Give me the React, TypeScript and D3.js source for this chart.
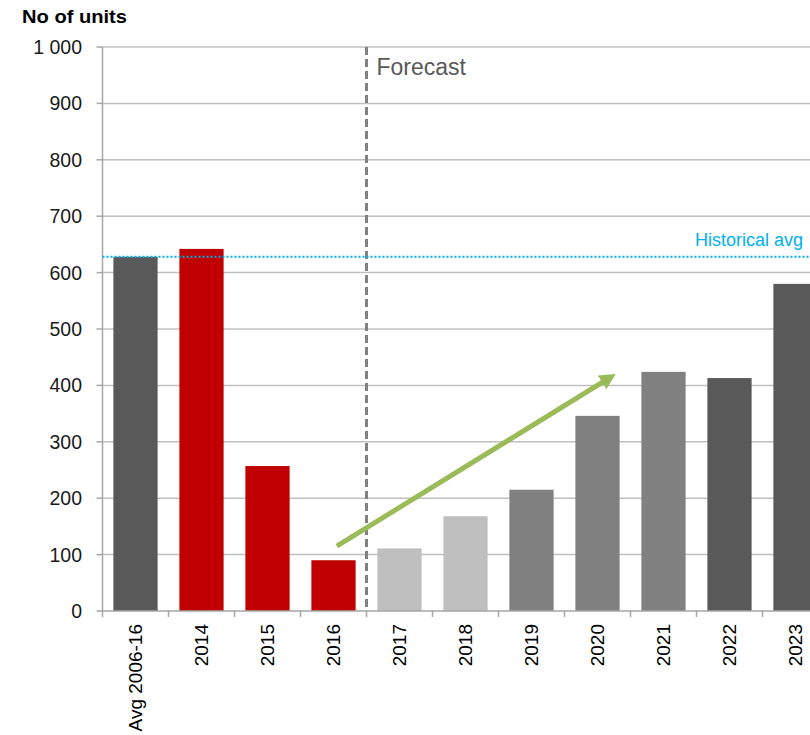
import * as d3 from "d3";

const categories = ["Avg 2006-16", "2014", "2015", "2016", "2017", "2018", "2019", "2020", "2021", "2022", "2023"];
const units = [628, 642, 257, 90, 111, 168, 215, 346, 424, 413, 580];
const barColors = ["#595959", "#C00000", "#C00000", "#C00000", "#BFBFBF", "#BFBFBF", "#808080", "#808080", "#808080", "#595959", "#595959"];
const yTicks = [0, 100, 200, 300, 400, 500, 600, 700, 800, 900, 1000];
const historicalAvg = 628;
const forecastStart = "2017";
// trend arrow, in category-index units and values
const arrowFrom: [number, number] = [3.05, 115];
const arrowTo: [number, number] = [7.33, 424];

const W = 810;
const H = 735;
const left = 102.5;
const step = 66;
const top = 47;
const bottom = 611;

const fmt = (v: number) => (v >= 1000 ? d3.format(",")(v).replace(",", " ") : String(v));

export default function App() {
  const x = d3
    .scaleBand<string>()
    .domain(categories)
    .range([left, left + step * categories.length])
    .paddingInner(0.33)
    .paddingOuter(0.165);
  const y = d3.scaleLinear().domain([0, 1000]).range([bottom, top]);
  const xi = d3
    .scaleLinear()
    .domain([0, 1])
    .range([x(categories[0])! + x.bandwidth() / 2, x(categories[1])! + x.bandwidth() / 2]);

  const gap = (x.step() - x.bandwidth()) / 2;
  const forecastX = x(forecastStart)! - gap;
  const boundaries = categories.map((c) => x(c)! + x.bandwidth() + gap);

  const ax1 = xi(arrowFrom[0]);
  const ay1 = y(arrowFrom[1]);
  const ax2 = xi(arrowTo[0]);
  const ay2 = y(arrowTo[1]);

  const font = "'Liberation Sans', Arial, sans-serif";

  return (
    <svg
      width={W}
      height={H}
      style={{ position: "absolute", left: 0, top: 0, background: "#fff" }}
      fontFamily={font}
    >
      <defs>
        <marker id="ah" viewBox="0 0 10 10" refX="6" refY="5" markerWidth="3.2" markerHeight="3.2" orient="auto">
          <path d="M0,0 L10,5 L0,10 z" fill="#9BBB59" />
        </marker>
      </defs>
      <text x={22} y={23} fontSize={19} fontWeight="bold" fill="#000" textLength={105} lengthAdjust="spacingAndGlyphs">
        No of units
      </text>

      {yTicks.map((t) => (
        <g key={t}>
          {t > 0 && <line x1={left} x2={W} y1={y(t)} y2={y(t)} stroke="#C0C0C0" strokeWidth={1.5} />}
          <line x1={left - 6} x2={left} y1={y(t)} y2={y(t)} stroke="#A6A6A6" strokeWidth={1.5} />
          <text x={82} y={y(t)} dy="0.36em" textAnchor="end" fontSize={19.5} fill="#1a1a1a">
            {fmt(t)}
          </text>
        </g>
      ))}

      {categories.map((c, i) => (
        <rect key={c} x={x(c)} y={y(units[i])} width={x.bandwidth()} height={y(0) - y(units[i])} fill={barColors[i]} />
      ))}

      <line x1={left} x2={left} y1={top} y2={bottom} stroke="#A6A6A6" strokeWidth={1.5} />
      <line x1={left} x2={W} y1={bottom} y2={bottom} stroke="#A6A6A6" strokeWidth={1.5} />
      {[left, ...boundaries].map((bx, i) => (
        <line key={i} x1={bx} x2={bx} y1={bottom} y2={bottom + 6} stroke="#A6A6A6" strokeWidth={1.5} />
      ))}

      {categories.map((c) => {
        const cx = x(c)! + x.bandwidth() / 2;
        return (
          <text
            key={c}
            transform={`translate(${cx},624) rotate(-90)`}
            textAnchor="end"
            dy="0.36em"
            fontSize={19}
            fill="#000"
          >
            {c}
          </text>
        );
      })}

      <line
        x1={forecastX}
        x2={forecastX}
        y1={top}
        y2={bottom}
        stroke="#808080"
        strokeWidth={3}
        strokeDasharray="8 4"
      />
      <text x={forecastX + 10} y={75} fontSize={23} fill="#595959">
        Forecast
      </text>

      <line
        x1={left}
        x2={W}
        y1={y(historicalAvg)}
        y2={y(historicalAvg)}
        stroke="#00B0F0"
        strokeWidth={2}
        strokeDasharray="2 2"
      />
      <text x={803} y={y(historicalAvg) - 11} textAnchor="end" fontSize={18} fill="#00B0F0">
        Historical avg
      </text>

      <line x1={ax1} y1={ay1} x2={ax2 - 9} y2={ay2 + 5.5} stroke="#9BBB59" strokeWidth={5} markerEnd="url(#ah)" />
    </svg>
  );
}
